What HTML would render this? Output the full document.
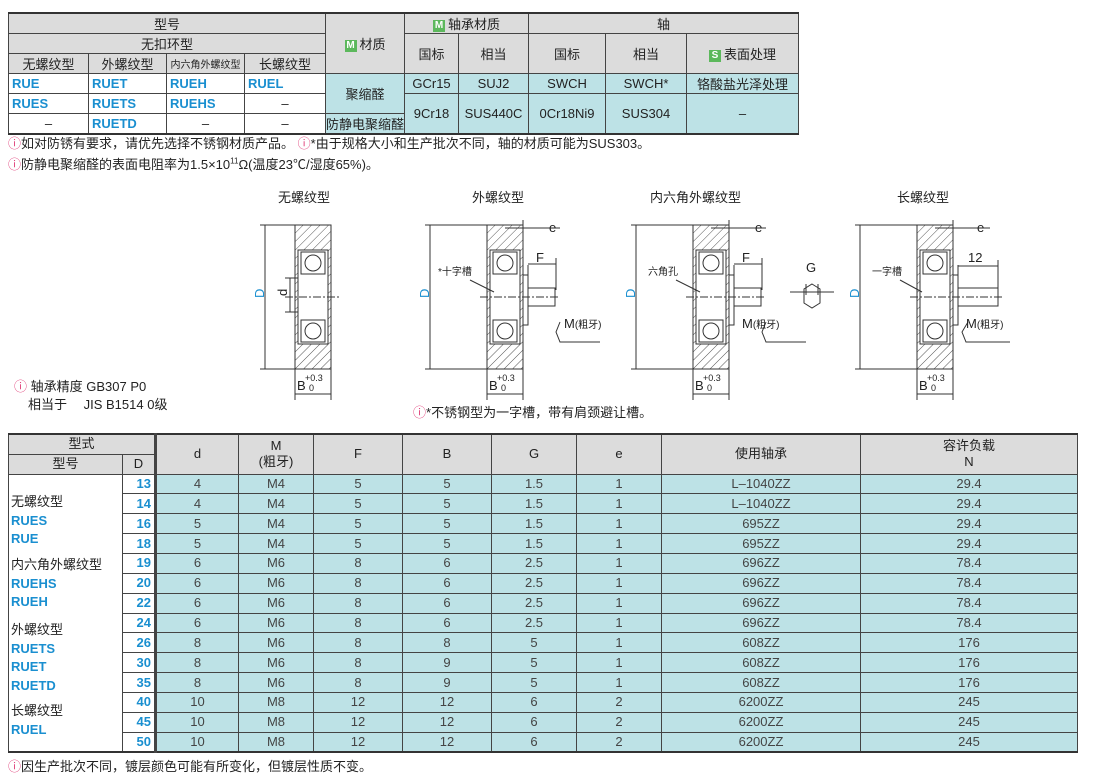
<!DOCTYPE html>
<html><head><meta charset="utf-8"><style>
*{margin:0;padding:0;box-sizing:border-box}
body{width:1100px;height:776px;background:#fff;position:relative;overflow:hidden;font-family:"Liberation Sans","Noto Sans CJK SC",sans-serif;color:#222}
table{border-collapse:collapse;table-layout:fixed;position:absolute}
td{border:1px solid #444;text-align:center;font-size:13px;padding:0;white-space:nowrap;overflow:hidden}
.h{background:#dcdcdc}
.c{background:#bde2e6}
.b{color:#1a8fd0;font-weight:bold;text-align:left;padding-left:3px}
.n{position:absolute;font-size:13px;white-space:nowrap}
.i{color:#e0407a}
.m{display:inline-block;width:12px;height:12px;background:#5cb85c;color:#fff;font-size:10px;line-height:12px;text-align:center;font-weight:bold;vertical-align:1px;margin-right:3px}
#t1{left:8px;top:12px;border-top:2px solid #333;border-bottom:2px solid #333}
#t1 td{height:20px}
#t2{left:8px;top:433px;border-top:2px solid #333;border-bottom:2px solid #333}
#t2 td{height:19.86px;line-height:16px;font-size:13px}
#t2 tr.hd td{height:20px;line-height:16px}
.bl{border-left:3px solid #444}
.g{color:#444}
.lc{border-top:none;border-bottom:none}
.dn{color:#1a8fd0;font-weight:bold;text-align:right;padding-right:3px}
.lab{position:absolute;font-size:13px;line-height:18.5px;white-space:nowrap}
.lab b{color:#1a8fd0}
</style></head><body>
<table id="t1">
<colgroup><col style="width:80px"><col style="width:78px"><col style="width:78px"><col style="width:81px"><col style="width:78px"><col style="width:54px"><col style="width:70px"><col style="width:77px"><col style="width:81px"><col style="width:112px"></colgroup>
<tr><td class="h" colspan="4">型号</td><td class="h" rowspan="3"><span class="m">M</span>材质</td><td class="h" colspan="2"><span class="m">M</span>轴承材质</td><td class="h" colspan="3">轴</td></tr>
<tr><td class="h" colspan="4">无扣环型</td><td class="h" rowspan="2">国标</td><td class="h" rowspan="2">相当</td><td class="h" rowspan="2">国标</td><td class="h" rowspan="2">相当</td><td class="h" rowspan="2"><span class="m">S</span>表面处理</td></tr>
<tr><td class="h">无螺纹型</td><td class="h">外螺纹型</td><td class="h" style="font-size:10px">内六角外螺纹型</td><td class="h">长螺纹型</td></tr>
<tr><td class="b">RUE</td><td class="b">RUET</td><td class="b">RUEH</td><td class="b">RUEL</td><td class="c" rowspan="2">聚缩醛</td><td class="c">GCr15</td><td class="c">SUJ2</td><td class="c">SWCH</td><td class="c">SWCH*</td><td class="c">铬酸盐光泽处理</td></tr>
<tr><td class="b">RUES</td><td class="b">RUETS</td><td class="b">RUEHS</td><td>–</td><td class="c" rowspan="2">9Cr18</td><td class="c" rowspan="2">SUS440C</td><td class="c" rowspan="2">0Cr18Ni9</td><td class="c" rowspan="2">SUS304</td><td class="c" rowspan="2">–</td></tr>
<tr><td>–</td><td class="b">RUETD</td><td>–</td><td>–</td><td class="c">防静电聚缩醛</td></tr>
</table>
<div class="n" style="left:8px;top:133px"><span class="i">ⓘ</span>如对防锈有要求，请优先选择不锈钢材质产品。 <span class="i">ⓘ</span>*由于规格大小和生产批次不同，轴的材质可能为SUS303。</div>
<div class="n" style="left:8px;top:154px"><span class="i">ⓘ</span>防静电聚缩醛的表面电阻率为1.5×10<sup style="font-size:8px">11</sup>Ω(温度23℃/湿度65%)。</div>

<svg style="position:absolute;left:0;top:180px" width="1100" height="245" font-family="Liberation Sans,Noto Sans CJK SC,sans-serif" font-size="13">
<defs><pattern id="hp" width="6" height="6" patternUnits="userSpaceOnUse" patternTransform="rotate(45)"><line x1="0" y1="0" x2="0" y2="6" stroke="#555" stroke-width="1"/></pattern></defs>
<g stroke="#333" fill="none" stroke-width="1">
<g id="w1">
<rect x="295" y="45" width="36" height="144" fill="url(#hp)"/>
<rect x="298" y="70" width="30" height="94" fill="#fff"/>
<rect x="301" y="72" width="24" height="22"/><circle cx="313" cy="83" r="8"/>
<rect x="301" y="140" width="24" height="22"/><circle cx="313" cy="151" r="8"/>
</g>
<line x1="285" y1="117" x2="340" y2="117" stroke-dasharray="8 2 2 2"/>
<line x1="265" y1="45" x2="265" y2="189"/><line x1="260" y1="45" x2="295" y2="45"/><line x1="260" y1="189" x2="295" y2="189"/>
<line x1="285" y1="98" x2="298" y2="98"/><line x1="285" y1="132" x2="298" y2="132"/><line x1="290" y1="98" x2="290" y2="132"/>
<line x1="295" y1="189" x2="295" y2="220"/><line x1="331" y1="189" x2="331" y2="220"/><line x1="295" y1="214" x2="331" y2="214"/>

<use href="#w1" x="192"/>
<rect x="523" y="95" width="5" height="50" fill="#fff"/><rect x="528" y="108" width="27" height="18" fill="#fff"/>
<line x1="480" y1="117" x2="560" y2="117" stroke-dasharray="8 2 2 2"/>
<line x1="430" y1="45" x2="430" y2="189"/><line x1="425" y1="45" x2="487" y2="45"/><line x1="425" y1="189" x2="487" y2="189"/>
<line x1="523" y1="40" x2="523" y2="95"/><line x1="505" y1="48" x2="560" y2="48"/>
<line x1="528" y1="85" x2="528" y2="108"/><line x1="556" y1="78" x2="556" y2="110"/><line x1="528" y1="84" x2="556" y2="84"/>
<polyline points="560,142 556,152 560,162 600,162" /><line x1="470" y1="100" x2="494" y2="112"/>
<line x1="487" y1="189" x2="487" y2="220"/><line x1="523" y1="189" x2="523" y2="220"/><line x1="487" y1="214" x2="523" y2="214"/>

<use href="#w1" x="398"/>
<rect x="729" y="95" width="5" height="50" fill="#fff"/><rect x="734" y="108" width="27" height="18" fill="#fff"/>
<line x1="686" y1="117" x2="766" y2="117" stroke-dasharray="8 2 2 2"/>
<line x1="636" y1="45" x2="636" y2="189"/><line x1="631" y1="45" x2="693" y2="45"/><line x1="631" y1="189" x2="693" y2="189"/>
<line x1="729" y1="40" x2="729" y2="95"/><line x1="711" y1="48" x2="766" y2="48"/>
<line x1="734" y1="85" x2="734" y2="108"/><line x1="762" y1="78" x2="762" y2="110"/><line x1="734" y1="84" x2="762" y2="84"/>
<polyline points="766,142 762,152 766,162 806,162"/><line x1="676" y1="100" x2="700" y2="112"/>
<line x1="693" y1="189" x2="693" y2="220"/><line x1="729" y1="189" x2="729" y2="220"/><line x1="693" y1="214" x2="729" y2="214"/>
<polygon points="812,104 820,109 820,123 812,128 804,123 804,109"/><line x1="790" y1="112" x2="834" y2="112"/><line x1="806" y1="104" x2="806" y2="115"/><line x1="818" y1="104" x2="818" y2="115"/>

<use href="#w1" x="622"/>
<rect x="953" y="95" width="5" height="50" fill="#fff"/><rect x="958" y="108" width="40" height="18" fill="#fff"/>
<line x1="910" y1="117" x2="1003" y2="117" stroke-dasharray="8 2 2 2"/>
<line x1="860" y1="45" x2="860" y2="189"/><line x1="855" y1="45" x2="917" y2="45"/><line x1="855" y1="189" x2="917" y2="189"/>
<line x1="953" y1="40" x2="953" y2="95"/><line x1="935" y1="48" x2="990" y2="48"/>
<line x1="958" y1="85" x2="958" y2="108"/><line x1="998" y1="80" x2="998" y2="110"/><line x1="958" y1="86" x2="998" y2="86"/>
<polyline points="968,142 962,152 966,162 1010,162"/><line x1="900" y1="100" x2="922" y2="112"/>
<line x1="917" y1="189" x2="917" y2="220"/><line x1="953" y1="189" x2="953" y2="220"/><line x1="917" y1="214" x2="953" y2="214"/>
</g>
<g fill="#222">
<text x="278" y="22">无螺纹型</text><text x="472" y="22">外螺纹型</text><text x="650" y="22">内六角外螺纹型</text><text x="897" y="22">长螺纹型</text>
<text x="258" y="124" fill="#1a8fd0" transform="rotate(-90 258 118)">D</text><text x="423" y="124" fill="#1a8fd0" transform="rotate(-90 423 118)">D</text>
<text x="629" y="124" fill="#1a8fd0" transform="rotate(-90 629 118)">D</text><text x="853" y="124" fill="#1a8fd0" transform="rotate(-90 853 118)">D</text>
<text x="283" y="120" transform="rotate(-90 283 116)">d</text>
<text x="549" y="52">e</text><text x="755" y="52">e</text><text x="977" y="52">e</text>
<text x="536" y="82">F</text><text x="742" y="82">F</text><text x="968" y="82">12</text><text x="806" y="92">G</text>
<text x="564" y="148">M<tspan font-size="10">(粗牙)</tspan></text><text x="742" y="148">M<tspan font-size="10">(粗牙)</tspan></text><text x="966" y="148">M<tspan font-size="10">(粗牙)</tspan></text>
<text x="438" y="95" font-size="10">*十字槽</text><text x="648" y="95" font-size="10">六角孔</text><text x="872" y="95" font-size="10">一字槽</text>
<text x="297" y="210">B</text><text x="305" y="201" font-size="9">+0.3</text><text x="309" y="211" font-size="9">0</text>
<text x="489" y="210">B</text><text x="497" y="201" font-size="9">+0.3</text><text x="501" y="211" font-size="9">0</text>
<text x="695" y="210">B</text><text x="703" y="201" font-size="9">+0.3</text><text x="707" y="211" font-size="9">0</text>
<text x="919" y="210">B</text><text x="927" y="201" font-size="9">+0.3</text><text x="931" y="211" font-size="9">0</text>
</g>
</svg>
<div class="n" style="left:14px;top:376px"><span class="i">ⓘ</span> 轴承精度 GB307 P0</div>
<div class="n" style="left:28px;top:394px">相当于　 JIS B1514 0级</div>
<div class="n" style="left:413px;top:402px"><span class="i">ⓘ</span>*不锈钢型为一字槽，带有肩颈避让槽。</div>

<table id="t2">
<colgroup><col style="width:114px"><col style="width:33px"><col style="width:83px"><col style="width:75px"><col style="width:89px"><col style="width:89px"><col style="width:85px"><col style="width:85px"><col style="width:199px"><col style="width:217px"></colgroup>
<tr class="hd"><td class="h" colspan="2">型式</td><td class="h bl" rowspan="2">d</td><td class="h" rowspan="2">M<br>(粗牙)</td><td class="h" rowspan="2">F</td><td class="h" rowspan="2">B</td><td class="h" rowspan="2">G</td><td class="h" rowspan="2">e</td><td class="h" rowspan="2">使用轴承</td><td class="h" rowspan="2">容许负载<br>N</td></tr>
<tr class="hd"><td class="h">型号</td><td class="h">D</td></tr>
<tr><td class="lc"></td><td class="dn">13</td><td class="c bl g">4</td><td class="c g">M4</td><td class="c g">5</td><td class="c g">5</td><td class="c g">1.5</td><td class="c g">1</td><td class="c g">L–1040ZZ</td><td class="c g">29.4</td></tr>
<tr><td class="lc"></td><td class="dn">14</td><td class="c bl g">4</td><td class="c g">M4</td><td class="c g">5</td><td class="c g">5</td><td class="c g">1.5</td><td class="c g">1</td><td class="c g">L–1040ZZ</td><td class="c g">29.4</td></tr>
<tr><td class="lc"></td><td class="dn">16</td><td class="c bl g">5</td><td class="c g">M4</td><td class="c g">5</td><td class="c g">5</td><td class="c g">1.5</td><td class="c g">1</td><td class="c g">695ZZ</td><td class="c g">29.4</td></tr>
<tr><td class="lc"></td><td class="dn">18</td><td class="c bl g">5</td><td class="c g">M4</td><td class="c g">5</td><td class="c g">5</td><td class="c g">1.5</td><td class="c g">1</td><td class="c g">695ZZ</td><td class="c g">29.4</td></tr>
<tr><td class="lc"></td><td class="dn">19</td><td class="c bl g">6</td><td class="c g">M6</td><td class="c g">8</td><td class="c g">6</td><td class="c g">2.5</td><td class="c g">1</td><td class="c g">696ZZ</td><td class="c g">78.4</td></tr>
<tr><td class="lc"></td><td class="dn">20</td><td class="c bl g">6</td><td class="c g">M6</td><td class="c g">8</td><td class="c g">6</td><td class="c g">2.5</td><td class="c g">1</td><td class="c g">696ZZ</td><td class="c g">78.4</td></tr>
<tr><td class="lc"></td><td class="dn">22</td><td class="c bl g">6</td><td class="c g">M6</td><td class="c g">8</td><td class="c g">6</td><td class="c g">2.5</td><td class="c g">1</td><td class="c g">696ZZ</td><td class="c g">78.4</td></tr>
<tr><td class="lc"></td><td class="dn">24</td><td class="c bl g">6</td><td class="c g">M6</td><td class="c g">8</td><td class="c g">6</td><td class="c g">2.5</td><td class="c g">1</td><td class="c g">696ZZ</td><td class="c g">78.4</td></tr>
<tr><td class="lc"></td><td class="dn">26</td><td class="c bl g">8</td><td class="c g">M6</td><td class="c g">8</td><td class="c g">8</td><td class="c g">5</td><td class="c g">1</td><td class="c g">608ZZ</td><td class="c g">176</td></tr>
<tr><td class="lc"></td><td class="dn">30</td><td class="c bl g">8</td><td class="c g">M6</td><td class="c g">8</td><td class="c g">9</td><td class="c g">5</td><td class="c g">1</td><td class="c g">608ZZ</td><td class="c g">176</td></tr>
<tr><td class="lc"></td><td class="dn">35</td><td class="c bl g">8</td><td class="c g">M6</td><td class="c g">8</td><td class="c g">9</td><td class="c g">5</td><td class="c g">1</td><td class="c g">608ZZ</td><td class="c g">176</td></tr>
<tr><td class="lc"></td><td class="dn">40</td><td class="c bl g">10</td><td class="c g">M8</td><td class="c g">12</td><td class="c g">12</td><td class="c g">6</td><td class="c g">2</td><td class="c g">6200ZZ</td><td class="c g">245</td></tr>
<tr><td class="lc"></td><td class="dn">45</td><td class="c bl g">10</td><td class="c g">M8</td><td class="c g">12</td><td class="c g">12</td><td class="c g">6</td><td class="c g">2</td><td class="c g">6200ZZ</td><td class="c g">245</td></tr>
<tr><td class="lc"></td><td class="dn">50</td><td class="c bl g">10</td><td class="c g">M8</td><td class="c g">12</td><td class="c g">12</td><td class="c g">6</td><td class="c g">2</td><td class="c g">6200ZZ</td><td class="c g">245</td></tr>
</table>
<div class="lab" style="left:11px;top:493px">无螺纹型<br><b>RUES<br>RUE</b></div>
<div class="lab" style="left:11px;top:556px">内六角外螺纹型<br><b>RUEHS<br>RUEH</b></div>
<div class="lab" style="left:11px;top:621px">外螺纹型<br><b>RUETS<br>RUET<br>RUETD</b></div>
<div class="lab" style="left:11px;top:702px">长螺纹型<br><b>RUEL</b></div>
<div class="n" style="left:8px;top:756px"><span class="i">ⓘ</span>因生产批次不同，镀层颜色可能有所变化，但镀层性质不变。</div>
</body></html>
